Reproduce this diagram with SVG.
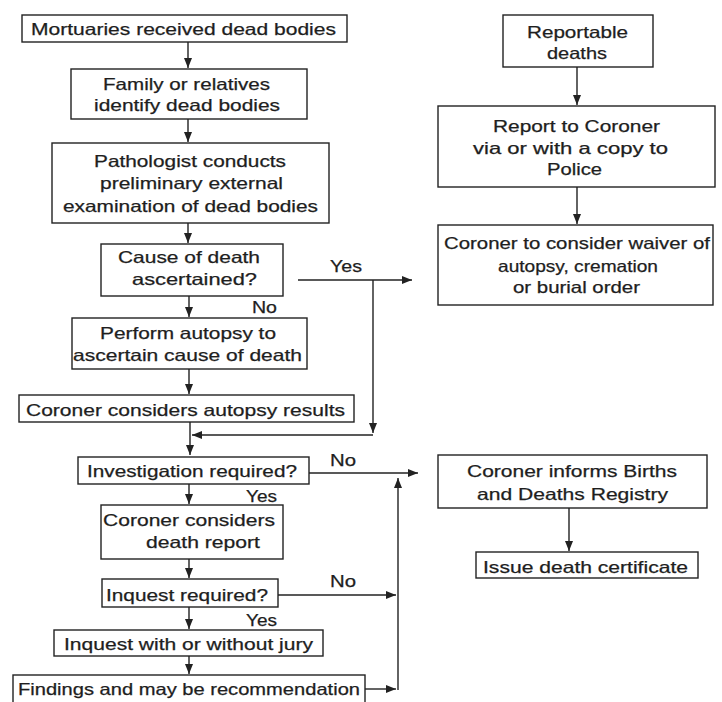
<svg xmlns="http://www.w3.org/2000/svg" width="722" height="702" viewBox="0 0 722 702">
<defs>
<marker id="ah" markerUnits="userSpaceOnUse" markerWidth="11" markerHeight="9" refX="10" refY="4" orient="auto">
<path d="M0,0 L10,4 L0,8 z" fill="#222"/>
</marker>
<style>
rect{fill:#fff;stroke:#222;stroke-width:1.4}
text{font-family:"Liberation Sans",Arial,Helvetica,sans-serif;font-size:16.5px;fill:#1e1e1e;stroke:#1e1e1e;stroke-width:0.25}
#connectors path{fill:none;stroke:#222;stroke-width:1.4}
.a{marker-end:url(#ah)}
</style>
</defs>
<rect x="0" y="0" width="722" height="702" style="fill:#fff;stroke:none"/>
<g id="connectors">
<path class="a" d="M188,42 V68"/>
<path class="a" d="M188,119 V142"/>
<path class="a" d="M188,223 V243"/>
<path class="a" d="M189,296 V317"/>
<path class="a" d="M189,369 V394"/>
<path class="a" d="M190,422 V455"/>
<path class="a" d="M298,280 H412"/>
<path class="a" d="M373,280 V433"/>
<path class="a" d="M373,435 H192"/>
<path class="a" d="M309,473 H418"/>
<path class="a" d="M189,484 V504"/>
<path class="a" d="M189,559 V578"/>
<path class="a" d="M278,595 H396"/>
<path class="a" d="M189,607 V629"/>
<path class="a" d="M189,656 V674"/>
<path class="a" d="M365,689 H396"/>
<path class="a" d="M398,690 V478"/>
<path class="a" d="M577,67 V105"/>
<path class="a" d="M577,187 V224"/>
<path class="a" d="M569,508 V551"/>
<g id="labels">
<text x="330" y="272" textLength="32" lengthAdjust="spacingAndGlyphs">Yes</text>
<text x="252" y="313" textLength="25" lengthAdjust="spacingAndGlyphs">No</text>
<text x="330" y="466" textLength="26" lengthAdjust="spacingAndGlyphs">No</text>
<text x="246" y="502" textLength="31" lengthAdjust="spacingAndGlyphs">Yes</text>
<text x="330" y="587" textLength="26" lengthAdjust="spacingAndGlyphs">No</text>
<text x="246" y="626" textLength="31" lengthAdjust="spacingAndGlyphs">Yes</text>
</g>
</g>
<g id="n1"><rect x="22" y="15" width="325" height="27"/>
<text x="31" y="34.5" textLength="305" lengthAdjust="spacingAndGlyphs">Mortuaries received dead bodies</text></g>
<g id="n2"><rect x="71" y="69" width="236" height="50"/>
<text x="103" y="90" textLength="167" lengthAdjust="spacingAndGlyphs">Family or relatives</text>
<text x="94" y="111" textLength="186" lengthAdjust="spacingAndGlyphs">identify dead bodies</text></g>
<g id="n3"><rect x="52" y="143" width="277" height="80"/>
<text x="94" y="167" textLength="192" lengthAdjust="spacingAndGlyphs">Pathologist conducts</text>
<text x="100" y="189" textLength="183" lengthAdjust="spacingAndGlyphs">preliminary external</text>
<text x="63" y="212" textLength="255" lengthAdjust="spacingAndGlyphs">examination of dead bodies</text></g>
<g id="n4"><rect x="101" y="244" width="182" height="52"/>
<text x="118" y="263" textLength="142" lengthAdjust="spacingAndGlyphs">Cause of death</text>
<text x="132" y="285" textLength="125" lengthAdjust="spacingAndGlyphs">ascertained?</text></g>
<g id="n5"><rect x="72" y="318" width="235" height="51"/>
<text x="100" y="339" textLength="176" lengthAdjust="spacingAndGlyphs">Perform autopsy to</text>
<text x="73" y="361" textLength="229" lengthAdjust="spacingAndGlyphs">ascertain cause of death</text></g>
<g id="n6"><rect x="19" y="395" width="335" height="27"/>
<text x="26" y="416" textLength="319" lengthAdjust="spacingAndGlyphs">Coroner considers autopsy results</text></g>
<g id="n7"><rect x="78" y="457" width="231" height="27"/>
<text x="87" y="477" textLength="210" lengthAdjust="spacingAndGlyphs">Investigation required?</text></g>
<g id="n8"><rect x="101" y="505" width="182" height="54"/>
<text x="103" y="526" textLength="172" lengthAdjust="spacingAndGlyphs">Coroner considers</text>
<text x="146" y="548" textLength="114" lengthAdjust="spacingAndGlyphs">death report</text></g>
<g id="n9"><rect x="102" y="579" width="176" height="28"/>
<text x="106" y="601" textLength="162" lengthAdjust="spacingAndGlyphs">Inquest required?</text></g>
<g id="n10"><rect x="54" y="630" width="269" height="26"/>
<text x="64" y="650" textLength="249" lengthAdjust="spacingAndGlyphs">Inquest with or without jury</text></g>
<g id="n11"><rect x="13" y="675" width="352" height="40"/>
<text x="18" y="695" textLength="342" lengthAdjust="spacingAndGlyphs">Findings and may be recommendation</text></g>
<g id="r1"><rect x="503" y="15" width="150" height="52"/>
<text x="527" y="38" textLength="101" lengthAdjust="spacingAndGlyphs">Reportable</text>
<text x="547" y="59" textLength="60" lengthAdjust="spacingAndGlyphs">deaths</text></g>
<g id="r2"><rect x="438" y="106" width="277" height="81"/>
<text x="493" y="132" textLength="167" lengthAdjust="spacingAndGlyphs">Report to Coroner</text>
<text x="473" y="154" textLength="195" lengthAdjust="spacingAndGlyphs">via or with a copy to</text>
<text x="547" y="175" textLength="55" lengthAdjust="spacingAndGlyphs">Police</text></g>
<g id="r3"><rect x="438" y="225" width="275" height="80"/>
<text x="444" y="249" textLength="266" lengthAdjust="spacingAndGlyphs">Coroner to consider waiver of</text>
<text x="498" y="272" textLength="160" lengthAdjust="spacingAndGlyphs">autopsy, cremation</text>
<text x="513" y="293" textLength="127" lengthAdjust="spacingAndGlyphs">or burial order</text></g>
<g id="r4"><rect x="438" y="455" width="269" height="53"/>
<text x="467" y="477" textLength="210" lengthAdjust="spacingAndGlyphs">Coroner informs Births</text>
<text x="477" y="500" textLength="191" lengthAdjust="spacingAndGlyphs">and Deaths Registry</text></g>
<g id="r5"><rect x="476" y="552" width="222" height="26"/>
<text x="483" y="573" textLength="205" lengthAdjust="spacingAndGlyphs">Issue death certificate</text></g>
</svg>
